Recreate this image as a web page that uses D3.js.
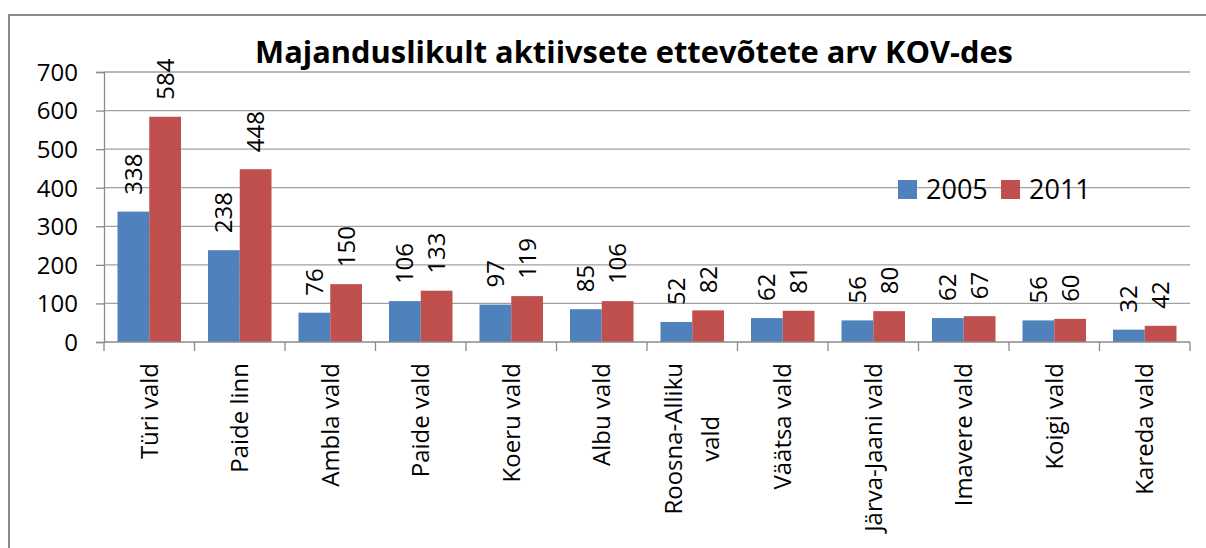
<!DOCTYPE html>
<html>
<head>
<meta charset="utf-8">
<script src="https://cdn.jsdelivr.net/npm/d3@7"></script>
<style>
  body { margin: 0; background: #fff; }
  svg text { font-family: "Open Sans", "DejaVu Sans", sans-serif; fill: #000; }
</style>
</head>
<body>
<svg width="1206" height="548"></svg>
<script>
// chart data
var categories = ["Türi vald", "Paide linn", "Ambla vald", "Paide vald", "Koeru vald", "Albu vald",
                  "Roosna-Alliku vald", "Väätsa vald", "Järva-Jaani vald", "Imavere vald", "Koigi vald", "Kareda vald"];
var years = ["2005", "2011"];
var values2005 = [338, 238, 76, 106, 97, 85, 52, 62, 56, 62, 56, 32];
var values2011 = [584, 448, 150, 133, 119, 106, 82, 81, 80, 67, 60, 42];
var yTicks = [0, 100, 200, 300, 400, 500, 600, 700];
var colors = ["#4f81bd", "#c0504d"];

var svg = d3.select("svg");

var rows = categories.map(function (c, i) {
    return { name: c, values: [values2005[i], values2011[i]] };
});

var x0 = d3.scaleBand().domain(categories).range([104, 1190]).paddingInner(0).paddingOuter(0);
var x1 = d3.scaleBand().domain(years).range([0, x0.bandwidth()]).paddingInner(0).paddingOuter(0.425);
var y = d3.scaleLinear().domain([0, 700]).range([342, 72]);
var z = d3.scaleOrdinal().domain(years).range(colors);

// outer chart border
svg.append("path")
    .attr("d", "M9,548 V15 H1206")
    .attr("fill", "none")
    .attr("stroke", "#8a8a8a")
    .attr("stroke-width", 2);

// title, sized so it spans the same width as the original
var title = svg.append("text")
    .attr("x", 634)
    .attr("y", 63)
    .attr("text-anchor", "middle")
    .style("font-size", "25px")
    .style("font-weight", "bold")
    .text("Majanduslikult aktiivsete ettevõtete arv KOV-des");
var tw = title.node().getComputedTextLength();
title.style("font-size", (25 * 758 / tw) + "px");

// gridlines
svg.append("g")
    .selectAll("line")
    .data(yTicks.slice(1))
    .enter().append("line")
    .attr("x1", 104).attr("x2", 1190)
    .attr("y1", function (d) { return y(d); })
    .attr("y2", function (d) { return y(d); })
    .attr("stroke", "#a0a0a0")
    .attr("stroke-width", 1.3);

// y axis
var yAxis = svg.append("g")
    .attr("transform", "translate(104,0)")
    .call(d3.axisLeft(y).tickValues(yTicks).tickSize(8).tickPadding(18));
yAxis.select(".domain").attr("stroke", "#8a8a8a").attr("stroke-width", 1.3);
yAxis.selectAll(".tick line").attr("stroke", "#8a8a8a").attr("stroke-width", 1.3);
yAxis.selectAll(".tick text")
    .style("font-size", "24px")
    .attr("dy", "0.35em");

// bars
var group = svg.append("g").selectAll(".cat")
    .data(rows)
    .enter().append("g")
    .attr("class", "cat")
    .attr("transform", function (d) { return "translate(" + x0(d.name) + ",0)"; });

group.selectAll("rect")
    .data(function (d) { return d.values.map(function (v, i) { return { year: years[i], value: v }; }); })
    .enter().append("rect")
    .attr("x", function (d) { return x1(d.year); })
    .attr("width", x1.bandwidth())
    .attr("y", function (d) { return y(d.value); })
    .attr("height", function (d) { return y(0) - y(d.value); })
    .attr("fill", function (d) { return z(d.year); });

// value labels, rotated
group.selectAll(".val")
    .data(function (d) { return d.values.map(function (v, i) { return { year: years[i], value: v }; }); })
    .enter().append("text")
    .attr("class", "val")
    .attr("transform", function (d) {
        return "translate(" + (x1(d.year) + x1.bandwidth() / 2) + "," + (y(d.value) - 17) + ") rotate(-90)";
    })
    .attr("dy", "0.35em")
    .style("font-size", "24px")
    .text(function (d) { return d.value; });

// x axis
var xAxis = svg.append("g")
    .attr("transform", "translate(0,342)");
xAxis.append("line")
    .attr("x1", 104).attr("x2", 1190)
    .attr("stroke", "#8a8a8a").attr("stroke-width", 1.3);
xAxis.selectAll(".xt")
    .data(categories.concat(["end"]))
    .enter().append("line")
    .attr("x1", function (d, i) { return i < categories.length ? x0(d) : x0.range()[1]; })
    .attr("x2", function (d, i) { return i < categories.length ? x0(d) : x0.range()[1]; })
    .attr("y1", 0).attr("y2", 9)
    .attr("stroke", "#8a8a8a").attr("stroke-width", 1.3);

// category labels, rotated, wrapped when too long
var labelTop = 363;
var maxLen = 190;
categories.forEach(function (c) {
    var cx = x0(c) + x0.bandwidth() / 2;
    var probe = svg.append("text").style("font-size", "24px").text(c);
    var full = probe.node().getComputedTextLength();
    probe.remove();
    var lines = [c];
    if (full > maxLen) {
        var cut = c.lastIndexOf(" ");
        lines = [c.slice(0, cut), c.slice(cut + 1)];
    }
    var lh = 37;
    var g = svg.append("g");
    var widths = lines.map(function (l) {
        var t = g.append("text").style("font-size", "24px").text(l);
        var w = t.node().getComputedTextLength();
        t.remove();
        return w;
    });
    var block = d3.max(widths);
    lines.forEach(function (l, i) {
        var off = (i - (lines.length - 1) / 2) * lh;
        g.append("text")
            .attr("transform", "translate(" + (cx + off) + "," + (labelTop + block / 2) + ") rotate(-90)")
            .attr("text-anchor", "middle")
            .attr("dy", "0.35em")
            .style("font-size", "24px")
            .text(l);
    });
});

// legend
var legend = svg.append("g").selectAll(".leg")
    .data(years)
    .enter().append("g")
    .attr("transform", function (d, i) { return "translate(" + (898 + i * 103) + ",180)"; });
legend.append("rect")
    .attr("width", 19).attr("height", 19)
    .attr("fill", function (d) { return z(d); });
legend.append("text")
    .attr("x", 28).attr("y", 9.5)
    .attr("dy", "0.35em")
    .style("font-size", "27px")
    .text(function (d) { return d; });
</script>
</body>
</html>
